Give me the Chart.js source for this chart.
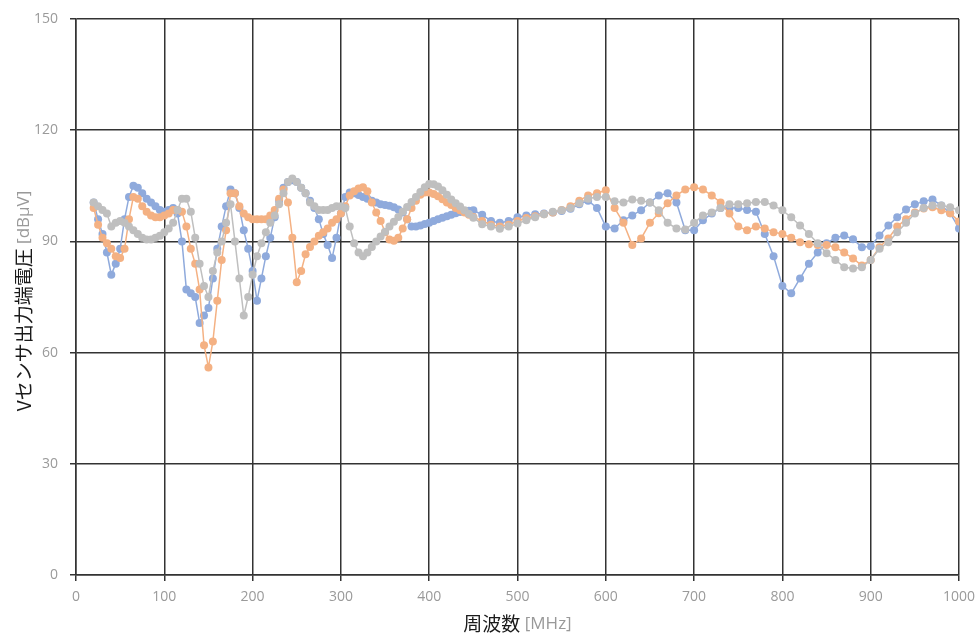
<!DOCTYPE html>
<html>
<head>
<meta charset="utf-8">
<script src="https://cdn.jsdelivr.net/npm/chart.js@4"></script>
<style>
  html, body { margin: 0; padding: 0; background: #fff; }
  #wrap { width: 978px; height: 637px; }
</style>
</head>
<body>
<div id="wrap"><canvas id="emi-chart" width="978" height="637"></canvas></div>
<script>
// frequency points [MHz]
const freqs = [
    20, 25, 30, 35, 40, 45, 50, 55, 60, 65, 70, 75, 80, 85, 90, 95,
    100, 105, 110, 115, 120, 125, 130, 135, 140, 145, 150, 155, 160, 165, 170, 175,
    180, 185, 190, 195, 200, 205, 210, 215, 220, 225, 230, 235, 240, 245, 250, 255,
    260, 265, 270, 275, 280, 285, 290, 295, 300, 305, 310, 315, 320, 325, 330, 335,
    340, 345, 350, 355, 360, 365, 370, 375, 380, 385, 390, 395, 400, 405, 410, 415,
    420, 425, 430, 435, 440, 445, 450, 460, 470, 480, 490, 500, 510, 520, 530, 540,
    550, 560, 570, 580, 590, 600, 610, 620, 630, 640, 650, 660, 670, 680, 690, 700,
    710, 720, 730, 740, 750, 760, 770, 780, 790, 800, 810, 820, 830, 840, 850, 860,
    870, 880, 890, 900, 910, 920, 930, 940, 950, 960, 970, 980, 990, 1000
];

// V sensor output [dBuV]
const blueVals = [
    100.5, 96, 92, 87, 81, 84, 88, 96, 102, 105, 104.5, 103, 101.5, 100.5, 99.5, 98.5,
    98, 98.5, 99, 97.5, 90, 77, 76, 75, 68, 70, 72, 80, 88, 94, 99.5, 104,
    103, 99, 93, 88, 82, 74, 80, 86, 91, 96.5, 101, 104.5, 106, 106.5, 106, 104.5,
    103, 101, 99, 96, 92, 89, 85.5, 91, 97.5, 102, 103.2, 103, 102.5, 102, 101.5, 101,
    100.5, 100, 99.8, 99.6, 99.2, 98.6, 97.8, 96, 94, 94, 94.3, 94.7, 95, 95.5, 96, 96.4,
    96.8, 97.2, 97.6, 97.9, 98.1, 98.3, 98.4, 97.2, 95.5, 95, 95.5, 96.5, 97, 97.3, 97.5, 97.8,
    98.2, 98.8, 100, 101, 99, 94, 93.5, 95.7, 97, 98.4, 100.5, 102.4, 103, 100.5, 93, 93,
    95.7, 97.5, 99, 99, 99, 98.5, 98, 92, 86, 78, 76, 80, 84, 87, 89.5, 91,
    91.6, 90.6, 88.4, 88.7, 91.6, 94.3, 96.5, 98.6, 100, 100.8, 101.3, 99.7, 97.6, 93.5
];
const orangeVals = [
    99, 94.5, 91, 89.5, 88, 86, 85.5, 88, 96, 102, 101.5, 99.5, 98, 97, 96.5, 96.5,
    97, 97.5, 98.5, 98.5, 98, 94, 88, 84, 77, 62, 56, 63, 74, 85, 93, 103,
    103, 99.5, 97.5, 96.5, 96, 96, 96, 96, 97, 98.5, 101.5, 104, 100.5, 91, 79, 82,
    86.5, 88.5, 90, 91.5, 92.5, 93.5, 95, 96, 97.5, 99.5, 102.4, 103.5, 104.3, 104.6, 103.5, 100.5,
    97.8, 95.5, 92.5, 90.5, 90.2, 91, 93.5, 96, 99, 101, 102.6, 103.2, 103.2, 102.8, 102.2, 101.4,
    100.5, 99.8, 99, 98.4, 97.8, 97.2, 96.6, 95.5, 94.5, 94, 94.5, 95.5, 96.3, 96.8, 97.3, 97.8,
    98.5, 99.5, 101, 102.4, 103, 103.8, 99, 95, 89, 90.8, 95, 97.6, 100.3, 102.4, 104, 104.6,
    104, 102.4, 100.5, 97.5, 94, 93, 94, 93.5, 92.5, 92, 91, 89.8, 89.2, 89, 89, 88.4,
    87, 85.4, 83.5, 85, 88.4, 90.8, 94, 96, 97.8, 98.9, 99.2, 98.4, 97.6, 95.4
];
const grayVals = [
    100.5, 99.5, 98.5, 97.5, 94, 95, 95.5, 95, 94, 93, 92, 91, 90.5, 90.5, 91, 91.5,
    92.5, 93.5, 95, 98.5, 101.5, 101.5, 98, 91, 84, 78, 75, 82, 87, 90, 95, 100,
    90, 80, 70, 75, 81, 86, 89.5, 92.5, 95, 97, 100, 103, 106, 107, 106, 104.5,
    103, 100.5, 99.5, 98.5, 98.5, 98.5, 99, 99.5, 99.5, 99, 94, 89.5, 87, 86, 87, 88.5,
    90, 91.3, 92.6, 94, 95.3, 96.6, 98, 99.3, 100.6, 102, 103.3, 104.6, 105.5, 105.4, 104.8, 103.8,
    102.6, 101.3, 100.3, 99.4, 98.4, 97.4, 96.4, 94.6, 94, 93.4, 94, 94.8, 95.7, 96.5, 97.3, 98,
    98.4, 99, 100.3, 101.5, 102, 102, 100.8, 100.5, 101.3, 101, 100.5, 98.4, 95, 93.5, 93.2, 95,
    97, 97.8, 99, 100, 100, 100.3, 100.6, 100.6, 99.7, 98.4, 96.5, 94.3, 92, 89.5, 86.8, 85,
    83, 82.7, 83, 85, 88, 89.8, 92.5, 95, 97.5, 99, 99.7, 99.7, 99.2, 98.4
];

const yTicks = [0, 30, 60, 90, 120, 150];
const xTicks = [0, 100, 200, 300, 400, 500, 600, 700, 800, 900, 1000];

const xTitle = ['周波数', ' [MHz]'];
const yTitle = ['Vセンサ出力端電圧', ' [dBµV]'];

function toPoints(vals) {
    return vals.map((v, i) => ({ x: freqs[i], y: v }));
}

function series(vals, color, order) {
    return {
        data: toPoints(vals),
        borderColor: color,
        backgroundColor: color,
        pointBackgroundColor: color,
        pointBorderColor: color,
        borderWidth: 1.5,
        pointRadius: 4,
        pointBorderWidth: 0,
        tension: 0,
        order: order,
    };
}

// axis titles: main part dark, unit part grey (as in the original)
function drawTwoTone(ctx, parts, cx, cy, angle) {
    ctx.save();
    ctx.translate(cx, cy);
    ctx.rotate(angle);
    ctx.textBaseline = 'middle';
    ctx.textAlign = 'left';
    const fonts = ['19px "Noto Sans CJK JP", "Noto Sans", sans-serif', '17px "Open Sans", "Noto Sans", sans-serif'];
    const colors = ['#1a1a1a', '#999999'];
    const widths = parts.map((p, i) => { ctx.font = fonts[i]; return ctx.measureText(p).width; });
    let x = -(widths[0] + widths[1]) / 2;
    parts.forEach((p, i) => {
        ctx.font = fonts[i];
        ctx.fillStyle = colors[i];
        ctx.fillText(p, x, 0);
        x += widths[i];
    });
    ctx.restore();
}

const axisTitles = {
    id: 'axisTitles',
    afterDraw(chart) {
        const a = chart.chartArea;
        drawTwoTone(chart.ctx, xTitle, (a.left + a.right) / 2, 624, 0);
        drawTwoTone(chart.ctx, yTitle, 24, 301, -Math.PI / 2);
    }
};

let chart;

function initializeChart() {
    const ctx = document.getElementById('emi-chart').getContext('2d');
    const tickFont = { family: '"Open Sans", "Noto Sans", sans-serif', size: 14 };
    chart = new Chart(ctx, {
        type: 'line',
        data: {
            datasets: [
                series(blueVals, 'rgb(143, 170, 220)', 3),
                series(orangeVals, 'rgb(244, 177, 131)', 2),
                series(grayVals, 'rgb(191, 191, 191)', 1),
            ],
        },
        options: {
            responsive: false,
            animation: false,
            layout: { padding: { left: 0, right: 19, top: 19, bottom: 0 } },
            plugins: {
                legend: { display: false },
                tooltip: { enabled: false },
            },
            scales: {
                x: {
                    type: 'linear',
                    min: 0,
                    max: 1000,
                    afterBuildTicks: (scale) => { scale.ticks = xTicks.map(v => ({ value: v })); },
                    afterFit: (scale) => {
                        scale.height = 62;
                        // labels may overhang, the plot keeps its width
                        scale.paddingLeft = 0;
                        scale.paddingRight = 0;
                    },
                    grid: { color: '#333', lineWidth: 1.5, tickLength: 6 },
                    border: { color: '#333', width: 1.5 },
                    ticks: {
                        padding: 8,
                        color: '#9a9a9a',
                        maxRotation: 0,
                        callback: (v) => String(v),
                        font: tickFont,
                    },
                    title: { display: false },
                },
                y: {
                    min: 0,
                    max: 150,
                    afterBuildTicks: (scale) => { scale.ticks = yTicks.map(v => ({ value: v })); },
                    afterFit: (scale) => {
                        scale.width = 76;
                        scale.paddingTop = 0;
                        scale.paddingBottom = 0;
                    },
                    grid: { color: '#333', lineWidth: 1.5, tickLength: 6 },
                    border: { color: '#333', width: 1.5 },
                    ticks: {
                        padding: 12,
                        color: '#9a9a9a',
                        callback: (v) => String(v),
                        font: tickFont,
                    },
                    title: { display: false },
                },
            },
        },
        plugins: [axisTitles],
    });
}

window.addEventListener('load', () => {
    initializeChart();
});
</script>
</body>
</html>
